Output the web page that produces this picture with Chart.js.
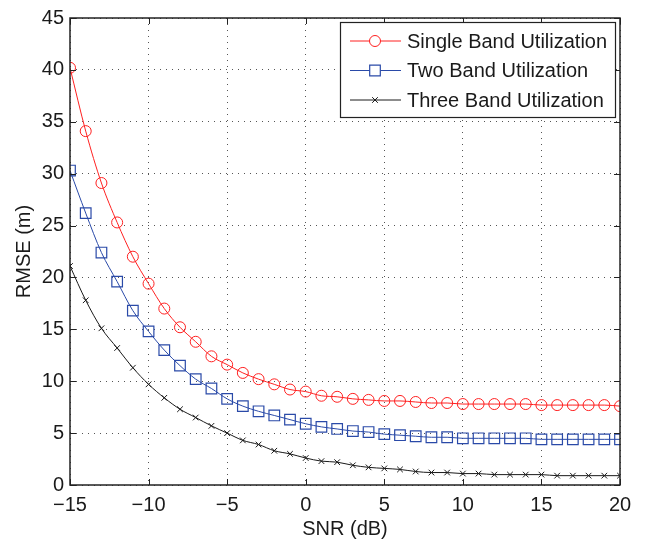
<!DOCTYPE html>
<html>
<head>
<meta charset="utf-8">
<script src="https://cdn.jsdelivr.net/npm/chart.js@4.4.1/dist/chart.umd.min.js"></script>
<style>
  html, body { margin: 0; padding: 0; background: #fff; }
  canvas { display: block; }
</style>
</head>
<body>
<canvas id="rmse" width="649" height="541"></canvas>
<script>
const snr = [-15,-14,-13,-12,-11,-10,-9,-8,-7,-6,-5,-4,-3,-2,-1,0,1,2,3,4,5,6,7,8,9,10,11,12,13,14,15,16,17,18,19,20];

const singleBand = [40.2,34.1,29.1,25.3,22.0,19.4,17.0,15.2,13.8,12.4,11.6,10.8,10.2,9.7,9.2,9.0,8.6,8.5,8.3,8.2,8.1,8.1,8.0,7.9,7.9,7.8,7.8,7.8,7.8,7.8,7.7,7.7,7.7,7.7,7.7,7.6];
const twoBand = [30.3,26.2,22.4,19.6,16.8,14.8,13.0,11.5,10.2,9.3,8.3,7.6,7.1,6.7,6.3,5.9,5.6,5.4,5.2,5.1,4.9,4.8,4.7,4.6,4.6,4.5,4.5,4.5,4.5,4.5,4.4,4.4,4.4,4.4,4.4,4.4];
const threeBand = [21.1,17.8,15.1,13.2,11.3,9.7,8.4,7.3,6.5,5.7,5.0,4.3,3.9,3.3,3.0,2.6,2.3,2.2,1.9,1.7,1.6,1.5,1.3,1.2,1.2,1.1,1.1,1.0,1.0,1.0,1.0,0.9,0.9,0.9,0.9,0.9];

const xTicks = [-15,-10,-5,0,5,10,15,20];
const yTicks = [0,5,10,15,20,25,30,35,40,45];

const FONT = 'Liberation Sans, Arial, sans-serif';
const RED = '#ff2020';
const BLUE = '#2a4aa8';
const BLACK = '#1a1a1a';

function pts(ys) {
  return snr.map((x, i) => ({x: x, y: ys[i]}));
}

function minus(v) {
  return String(v).replace('-', '\u2212');
}

// frame with inward ticks on all four sides
const framePlugin = {
  id: 'frame',
  afterDraw(chart) {
    const {ctx, chartArea: a, scales} = chart;
    const len = 6;
    ctx.save();
    ctx.strokeStyle = '#222';
    ctx.lineWidth = 1;
    ctx.beginPath();
    xTicks.forEach(t => {
      const px = Math.round(scales.x.getPixelForValue(t)) + 0.5;
      ctx.moveTo(px, a.bottom); ctx.lineTo(px, a.bottom - len);
      ctx.moveTo(px, a.top); ctx.lineTo(px, a.top + len);
    });
    yTicks.forEach(t => {
      const py = Math.round(scales.y.getPixelForValue(t)) + 0.5;
      ctx.moveTo(a.left, py); ctx.lineTo(a.left + len, py);
      ctx.moveTo(a.right, py); ctx.lineTo(a.right - len, py);
    });
    ctx.stroke();
    ctx.lineWidth = 1.5;
    ctx.strokeRect(a.left, a.top, a.right - a.left, a.bottom - a.top);
    ctx.restore();
  }
};

// matlab style legend box: line sample with marker in the middle
const legendPlugin = {
  id: 'boxLegend',
  afterDraw(chart) {
    const ctx = chart.ctx;
    const bx = 340, by = 22, bw = 275, bh = 95;
    ctx.save();
    ctx.fillStyle = '#fff';
    ctx.fillRect(bx, by, bw, bh);
    ctx.strokeStyle = '#222';
    ctx.lineWidth = 1.2;
    ctx.strokeRect(bx + 0.5, by + 0.5, bw, bh);
    ctx.font = '20px ' + FONT;
    ctx.textBaseline = 'middle';
    chart.data.datasets.forEach((ds, i) => {
      const y = by + 19 + i * 29.5;
      ctx.strokeStyle = ds.borderColor;
      ctx.lineWidth = 1;
      ctx.beginPath();
      ctx.moveTo(350, y); ctx.lineTo(401, y);
      ctx.stroke();
      ctx.fillStyle = '#fff';
      ctx.strokeStyle = ds.pointBorderColor;
      ctx.lineWidth = ds.pointBorderWidth;
      Chart.helpers.drawPoint(ctx, {
        pointStyle: ds.pointStyle, radius: ds.pointRadius, borderWidth: ds.pointBorderWidth
      }, 375, y);
      ctx.fillStyle = '#1a1a1a';
      ctx.fillText(ds.label, 407, y + 1);
    });
    ctx.restore();
  }
};

const config = {
  type: 'line',
  data: {
    datasets: [{
      label: 'Single Band Utilization',
      data: pts(singleBand),
      borderColor: RED,
      backgroundColor: 'rgba(0,0,0,0)',
      pointStyle: 'circle',
      pointRadius: 5.5,
      pointBorderColor: RED,
      borderWidth: 1,
      pointBorderWidth: 1
    }, {
      label: 'Two Band Utilization',
      data: pts(twoBand),
      borderColor: BLUE,
      backgroundColor: 'rgba(0,0,0,0)',
      pointStyle: 'rect',
      pointRadius: 7.5,
      pointBorderColor: BLUE,
      borderWidth: 1,
      pointBorderWidth: 1.2
    }, {
      label: 'Three Band Utilization',
      data: pts(threeBand),
      borderColor: BLACK,
      backgroundColor: 'rgba(0,0,0,0)',
      pointStyle: 'crossRot',
      pointRadius: 4,
      pointBorderColor: BLACK,
      borderWidth: 1,
      pointBorderWidth: 1
    }]
  },
  options: {
    responsive: false,
    animation: false,
    cubicInterpolationMode: 'monotone',
    layout: { padding: { top: 16, right: 29, left: 0, bottom: 0 } },
    plugins: {
      legend: { display: false },
      tooltip: { enabled: false }
    },
    scales: {
      x: {
        type: 'linear',
        min: -15, max: 20,
        afterBuildTicks: s => { s.ticks = xTicks.map(v => ({value: v})); },
        afterFit: s => { s.height = 56; },
        ticks: {
          color: '#1a1a1a',
          font: { family: FONT, size: 20 },
          padding: 8,
          maxRotation: 0,
          callback: v => minus(v)
        },
        grid: { color: '#555', lineWidth: 1, drawTicks: false },
        border: { display: false, dash: [1, 5] },
        title: {
          display: true, text: 'SNR (dB)', color: '#1a1a1a',
          font: { family: FONT, size: 20 }, padding: { top: 0, bottom: 0 }
        }
      },
      y: {
        min: 0, max: 45,
        afterBuildTicks: s => { s.ticks = yTicks.map(v => ({value: v})); },
        afterFit: s => { s.width = 70; },
        ticks: {
          color: '#1a1a1a',
          font: { family: FONT, size: 20 },
          padding: 6,
          callback: v => minus(v)
        },
        grid: { color: '#555', lineWidth: 1, drawTicks: false },
        border: { display: false, dash: [1, 5] },
        title: {
          display: true, text: 'RMSE (m)', color: '#1a1a1a',
          font: { family: FONT, size: 20 }, padding: { top: 12, bottom: 4 }
        }
      }
    }
  },
  plugins: [framePlugin, legendPlugin]
};

const rmse = new Chart(document.getElementById('rmse'), config);
</script>
</body>
</html>
